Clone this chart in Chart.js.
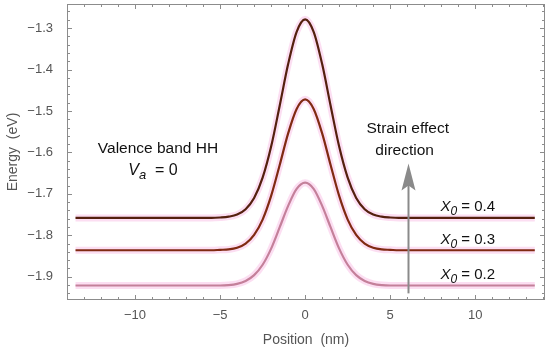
<!DOCTYPE html>
<html>
<head>
<meta charset="utf-8">
<script src="https://cdn.jsdelivr.net/npm/chart.js@4/dist/chart.umd.min.js"></script>
<style>
html, body { margin: 0; padding: 0; background: #fff; }
#wrap { width: 550px; height: 353px; }
</style>
</head>
<body>
<div id="wrap"><canvas id="chart" width="550" height="353"></canvas></div>
<script>
// ---------------- Data ----------------

const positions = [-13.5, -9, -6, -5.5, -5, -4.5, -4, -3.5, -3, -2.5, -2, -1.5, -1, -0.5, 0,
    0.5, 1, 1.5, 2, 2.5, 3, 3.5, 4, 4.5, 5, 5.5, 6, 9, 13.5];

const energyX04 = [-1.758, -1.758, -1.758, -1.758, -1.757, -1.755, -1.750, -1.737, -1.710, -1.661, -1.586, -1.488, -1.387, -1.309, -1.279,
    -1.309, -1.387, -1.488, -1.586, -1.661, -1.710, -1.737, -1.750, -1.755, -1.757, -1.758, -1.758, -1.758, -1.758];

const energyX03 = [-1.836, -1.836, -1.836, -1.836, -1.835, -1.834, -1.830, -1.820, -1.799, -1.762, -1.705, -1.631, -1.554, -1.495, -1.472,
    -1.495, -1.554, -1.631, -1.705, -1.762, -1.799, -1.820, -1.830, -1.834, -1.835, -1.836, -1.836, -1.836, -1.836];

const energyX02 = [-1.921, -1.921, -1.921, -1.921, -1.921, -1.920, -1.917, -1.910, -1.896, -1.871, -1.832, -1.781, -1.729, -1.688, -1.673,
    -1.688, -1.729, -1.781, -1.832, -1.871, -1.896, -1.910, -1.917, -1.920, -1.921, -1.921, -1.921, -1.921, -1.921];

const seriesNames = ["0.4", "0.3", "0.2"];
const seriesColors = ["#54200e", "#802a12", "#c4809a"];

const xTickValues = [-10, -5, 0, 5, 10];
const yTickValues = [-1.9, -1.8, -1.7, -1.6, -1.5, -1.4, -1.3];

// ---------------- Helpers ----------------

const FONT = "'Liberation Sans', Arial, sans-serif";

function fmt(v) {
    const s = Number.isInteger(v) ? String(Math.abs(v)) : Math.abs(v).toFixed(1);
    return (v < 0 ? "\u2212" : "") + s;
}

function toPoints(values) {
    return positions.map((x, i) => ({ x: x, y: values[i] }));
}

// no extra room for edge labels, the frame is fixed
function noPadding(s) {
    s.paddingTop = 0;
    s.paddingBottom = 0;
    s.paddingLeft = 0;
    s.paddingRight = 0;
}

const seriesValues = [energyX04, energyX03, energyX02];

const datasets = [];

// pink halo under each curve
seriesValues.forEach(values => {
    datasets.push({
        data: toPoints(values),
        borderColor: "rgba(251, 216, 240, 0.85)",
        borderWidth: 7,
        pointRadius: 0,
        order: 2,
        cubicInterpolationMode: "monotone"
    });
});

seriesValues.forEach((values, i) => {
    datasets.push({
        label: "X0 = " + seriesNames[i],
        data: toPoints(values),
        borderColor: seriesColors[i],
        borderWidth: 2.2,
        pointRadius: 0,
        order: 1,
        cubicInterpolationMode: "monotone"
    });
});

// ---------------- Frame, ticks and annotations ----------------

function drawSub(ctx, main, sub, rest, x, y, size) {
    ctx.textAlign = "left";
    ctx.textBaseline = "middle";
    ctx.font = "italic " + size + "px " + FONT;
    ctx.fillText(main, x, y);
    let w = ctx.measureText(main).width;
    ctx.font = "italic " + Math.round(size * 0.8) + "px " + FONT;
    ctx.fillText(sub, x + w, y + size * 0.33);
    w += ctx.measureText(sub).width;
    ctx.font = size + "px " + FONT;
    ctx.fillText(rest, x + w, y);
}

const framePlugin = {
    id: "frame",
    afterDraw(chart) {
        const ctx = chart.ctx;
        const area = chart.chartArea;
        const xs = chart.scales.x;
        const ys = chart.scales.y;

        ctx.save();
        ctx.strokeStyle = "#8c8c8c";
        ctx.lineWidth = 1;
        ctx.strokeRect(area.left + 0.5, area.top + 0.5, area.right - area.left - 1, area.bottom - area.top - 1);

        // x ticks (every 1 nm, major every 5)
        ctx.beginPath();
        for (let v = -14; v <= 14; v++) {
            const px = Math.round(xs.getPixelForValue(v)) + 0.5;
            const len = (v % 5 === 0) ? 5 : 3;
            ctx.moveTo(px, area.bottom);
            ctx.lineTo(px, area.bottom - len);
            ctx.moveTo(px, area.top);
            ctx.lineTo(px, area.top + len);
        }
        // y ticks (every 0.02 eV, major every 0.1)
        for (let k = -98; k <= -62; k++) {
            const v = k / 50;
            const py = Math.round(ys.getPixelForValue(v)) + 0.5;
            if (py < area.top || py > area.bottom) continue;
            const len = (k % 5 === 0) ? 5 : 3;
            ctx.moveTo(area.left, py);
            ctx.lineTo(area.left + len, py);
            ctx.moveTo(area.right, py);
            ctx.lineTo(area.right - len, py);
        }
        ctx.stroke();

        // strain arrow
        const ax = Math.round(xs.getPixelForValue(6.05)) + 0.5;
        const aBottom = ys.getPixelForValue(-1.94);
        const aTip = ys.getPixelForValue(-1.627);
        ctx.strokeStyle = "#8a8a8a";
        ctx.fillStyle = "#8a8a8a";
        ctx.lineWidth = 2;
        ctx.beginPath();
        ctx.moveTo(ax, aBottom);
        ctx.lineTo(ax, aTip + 20);
        ctx.stroke();
        ctx.beginPath();
        ctx.moveTo(ax, aTip);
        ctx.lineTo(ax - 7, aTip + 27);
        ctx.lineTo(ax, aTip + 22);
        ctx.lineTo(ax + 7, aTip + 27);
        ctx.closePath();
        ctx.fill();

        // texts
        ctx.fillStyle = "#111";
        ctx.textAlign = "center";
        ctx.textBaseline = "middle";
        ctx.font = "15.5px " + FONT;
        ctx.fillText("Valence band HH", xs.getPixelForValue(-8.65), ys.getPixelForValue(-1.590));
        ctx.fillText("Strain effect", xs.getPixelForValue(6.03), ys.getPixelForValue(-1.542));
        ctx.fillText("direction", xs.getPixelForValue(5.85), ys.getPixelForValue(-1.596));

        // V_a = 0
        drawSub(ctx, "V", "a", "  = 0", xs.getPixelForValue(-10.4), ys.getPixelForValue(-1.643), 16);

        // X0 labels
        const labelY = [-1.731, -1.811, -1.895];
        seriesNames.forEach((name, i) => {
            drawSub(ctx, "X", "0", " = " + name, xs.getPixelForValue(7.95), ys.getPixelForValue(labelY[i]), 15);
        });

        ctx.restore();
    }
};

// ---------------- Chart ----------------

const ctx = document.getElementById("chart").getContext("2d");

new Chart(ctx, {
    type: "line",
    data: { datasets: datasets },
    options: {
        responsive: false,
        animation: false,
        layout: { autoPadding: false, padding: { top: 4, right: 5, left: 0, bottom: 0 } },
        plugins: {
            legend: { display: false },
            tooltip: { enabled: false }
        },
        scales: {
            x: {
                type: "linear",
                min: -14,
                max: 14.1,
                afterBuildTicks: s => { s.ticks = xTickValues.map(v => ({ value: v })); },
                afterFit: s => { s.height = 53; noPadding(s); },
                grid: { display: false, drawTicks: false },
                border: { display: false },
                ticks: {
                    color: "#555",
                    padding: 8,
                    font: { family: FONT, size: 13 },
                    callback: v => fmt(v)
                },
                title: {
                    display: true,
                    text: "Position  (nm)",
                    color: "#555",
                    padding: 4,
                    font: { family: FONT, size: 14 }
                }
            },
            y: {
                type: "linear",
                min: -1.956,
                max: -1.242,
                afterBuildTicks: s => { s.ticks = yTickValues.map(v => ({ value: v })); },
                afterFit: s => { s.width = 67; noPadding(s); },
                grid: { display: false, drawTicks: false },
                border: { display: false },
                ticks: {
                    color: "#555",
                    padding: 14,
                    font: { family: FONT, size: 13 },
                    callback: v => fmt(v)
                },
                title: {
                    display: true,
                    text: "Energy  (eV)",
                    color: "#555",
                    padding: 5,
                    font: { family: FONT, size: 14 }
                }
            }
        }
    },
    plugins: [framePlugin]
});
</script>
</body>
</html>
